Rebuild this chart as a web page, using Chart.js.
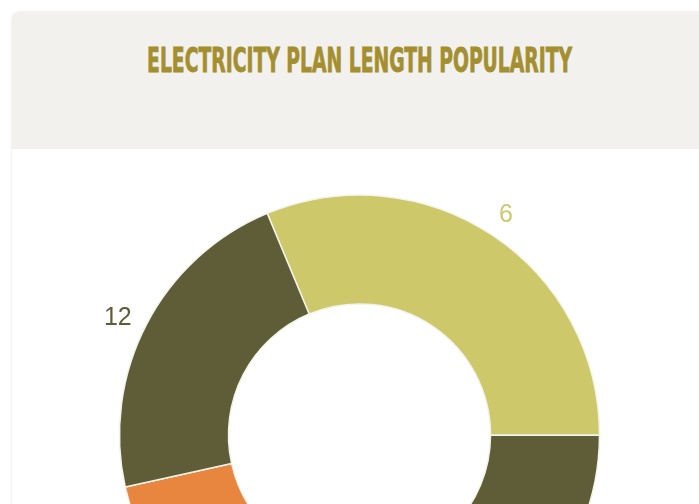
<!DOCTYPE html>
<html>
<head>
<meta charset="utf-8">
<script src="https://cdn.jsdelivr.net/npm/chart.js@4"></script>
<style>
  html, body { margin: 0; padding: 0; background: #fff; overflow: hidden; width: 699px; height: 504px; }
  .card {
    position: absolute; left: 12px; top: 12px; width: 695px; height: 620px;
    background: #fff; border-radius: 8px;
    box-shadow: 0 0 3px rgba(0, 0, 0, 0.13);
    overflow: hidden;
  }
  .card-head {
    position: absolute; left: 0; top: 0; width: 100%; height: 137px;
    background: #f2f1ee;
  }
  .card-head h2 {
    position: absolute; left: 0; top: 31px; width: 100%; margin: 0;
    text-align: center; line-height: 34px; white-space: nowrap;
  }
  .card-head h2 span {
    display: inline-block; white-space: nowrap;
    font-family: "DejaVu Sans", sans-serif; font-stretch: condensed;
    font-weight: bold; font-size: 34px; color: #a48f2f;
    -webkit-text-stroke: 0.8px #a48f2f;
    transform-origin: center;
  }
  .chart-box { position: absolute; left: 0; top: 138px; width: 695px; height: 570px; }
</style>
</head>
<body>
<div class="card">
  <div class="card-head"><h2><span id="title">ELECTRICITY PLAN LENGTH POPULARITY</span></h2></div>
  <div class="chart-box"><canvas id="planChart" width="695" height="570"></canvas></div>
</div>
<script>
// plan length (months) and share of customers
const planLengths = ['6', '24', '1', '12'];
const planShares = [31.3, 25, 21.5, 22.2];
const sliceColors = ['#cdc96a', '#5f5d38', '#e8853e', '#5f5d38'];

// squeeze the heading to the condensed width of the original
const title = document.getElementById('title');
const w = title.getBoundingClientRect().width;
title.style.transform = 'scaleX(' + (425 / w) + ')';

// labels outside each slice, in the slice colour
const outsideLabels = {
  id: 'outsideLabels',
  afterDatasetsDraw(chart) {
    const ctx = chart.ctx;
    const meta = chart.getDatasetMeta(0);
    ctx.save();
    ctx.font = '25px "Liberation Sans", Arial, sans-serif';
    ctx.textAlign = 'center';
    ctx.textBaseline = 'middle';
    meta.data.forEach((arc, i) => {
      const mid = (arc.startAngle + arc.endAngle) / 2;
      const text = planLengths[i];
      const half = ctx.measureText(text).width / 2;
      const r = arc.outerRadius + 20 + half * Math.abs(Math.cos(mid));
      ctx.fillStyle = sliceColors[i];
      ctx.fillText(text, arc.x + Math.cos(mid) * r, arc.y + Math.sin(mid) * r + (Math.cos(mid) < 0 ? 9 : 0));
    });
    ctx.restore();
  }
};

const ctx = document.getElementById('planChart').getContext('2d');
new Chart(ctx, {
  type: 'doughnut',
  data: {
    labels: planLengths,
    datasets: [{
      data: planShares,
      backgroundColor: sliceColors,
      borderColor: '#f4f3ea',
      borderWidth: 1.5
    }]
  },
  options: {
    responsive: false,
    maintainAspectRatio: false,
    animation: false,
    rotation: -22.6,
    radius: 240,
    cutout: '54.6%',
    plugins: {
      legend: { display: false },
      tooltip: { enabled: false }
    }
  },
  plugins: [outsideLabels]
});
</script>
</body>
</html>
